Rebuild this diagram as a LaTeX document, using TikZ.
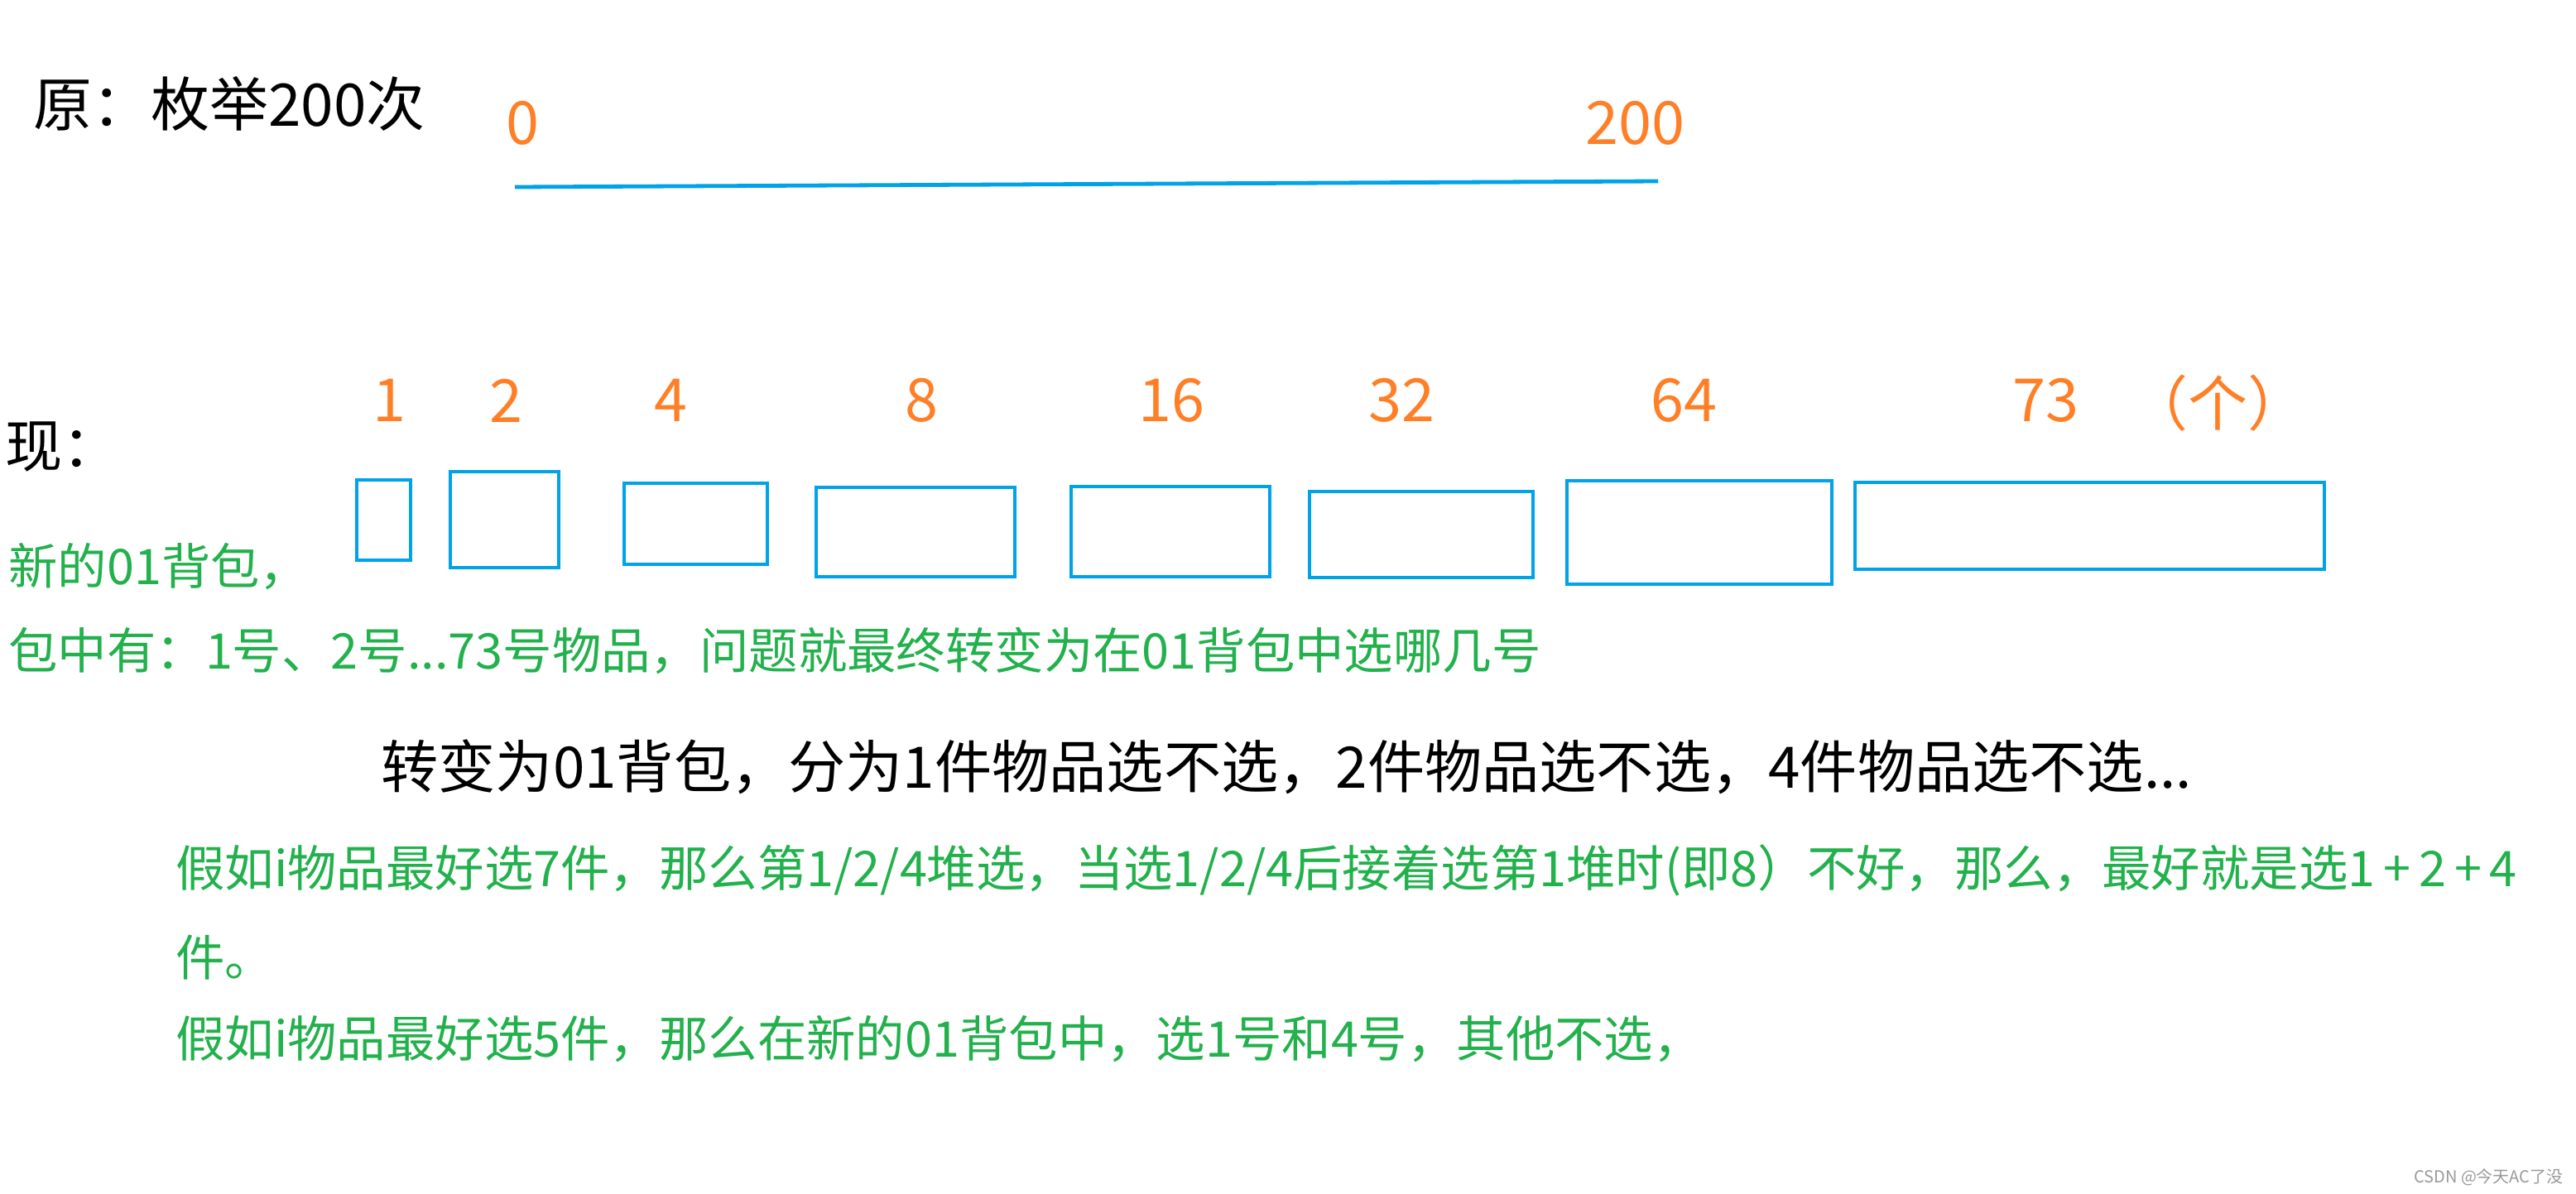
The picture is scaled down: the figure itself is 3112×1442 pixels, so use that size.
\documentclass[tikz,border=0pt]{standalone}
\usepackage{fontspec}
\newfontfamily\cjk{Noto Sans CJK SC}
\definecolor{pOrange}{HTML}{FF7F27}
\definecolor{pBlue}{HTML}{00A2E8}
\definecolor{pGreen}{HTML}{22B14C}
\definecolor{wGrey}{HTML}{999999}
\tikzset{
  blk/.style={font=\cjk\fontsize{34.6}{40}\selectfont, text=black, inner sep=0pt, anchor=west},
  num/.style={font=\cjk\fontsize{36}{42}\selectfont, text=pOrange, inner sep=0pt},
  grn/.style={font=\cjk\fontsize{29.7}{36}\selectfont, text=pGreen, inner sep=0pt, anchor=west},
  boxst/.style={draw=pBlue, line width=2.2pt},
  wm/.style={font=\cjk\fontsize{10}{12}\selectfont, text=wGrey, inner sep=0pt, anchor=east}
}
\begin{document}
\begin{tikzpicture}[x=0.5pt,y=-0.5pt]
\path[use as bounding box, fill=white] (0,0) rectangle (3112,1442);
% top
\node[blk, font=\cjk\fontsize{35.5}{42}\selectfont] (yuan) at (40,125) {原：枚举200次};
\node[num] (z0) at (631,149) {0};
\node[num] (z200) at (1975,149) {200};
\coordinate (la) at (622,226);
\coordinate (lb) at (2003,219);
\draw[pBlue, line width=2.4pt] (la) -- (lb);
% middle
\node[blk] (xian) at (6,540) {现：};
\node[num] (n1) at (470,484) {1};
\node[num] (n2) at (611,484) {2};
\node[num] (n4) at (810,484) {4};
\node[num] (n8) at (1113,484) {8};
\node[num] (n16) at (1415,484) {16};
\node[num] (n32) at (1693,484) {32};
\node[num] (n64) at (2034,484) {64};
\node[num] (n73) at (2471,484) {73};
\node[num] (nge) at (2679,487) {（个）};
\draw[boxst] (431,580) rectangle (496,677);
\draw[boxst] (544,570) rectangle (675,686);
\draw[boxst] (754,584) rectangle (927,682);
\draw[boxst] (986,589) rectangle (1226,697);
\draw[boxst] (1294,588) rectangle (1534,697);
\draw[boxst] (1582,594) rectangle (1852,698);
\draw[boxst] (1893,581) rectangle (2213,706);
\draw[boxst] (2241,583) rectangle (2808,688);
\node[grn] (g1) at (10,685) {新的01背包，};
\node[grn] (g2) at (10,786) {包中有：1号、2号...73号物品，问题就最终转变为在01背包中选哪几号};
\node[blk] (b1) at (460,927) {转变为01背包，分为1件物品选不选，2件物品选不选，4件物品选不选...};
\node[grn] (g3) at (212,1052) {假如i物品最好选7件，那么第1/2/4堆选，当选1/2/4后接着选第1堆时(即8）不好，那么，最好就是选1\,+\,2\,+\,4};
\node[grn] (g4) at (212,1157) {件。};
\node[grn] (g5) at (212,1256) {假如i物品最好选5件，那么在新的01背包中，选1号和4号，其他不选，};
\node[wm] (wmk) at (3097,1423) {CSDN @今天AC了没};
\end{tikzpicture}
\end{document}
